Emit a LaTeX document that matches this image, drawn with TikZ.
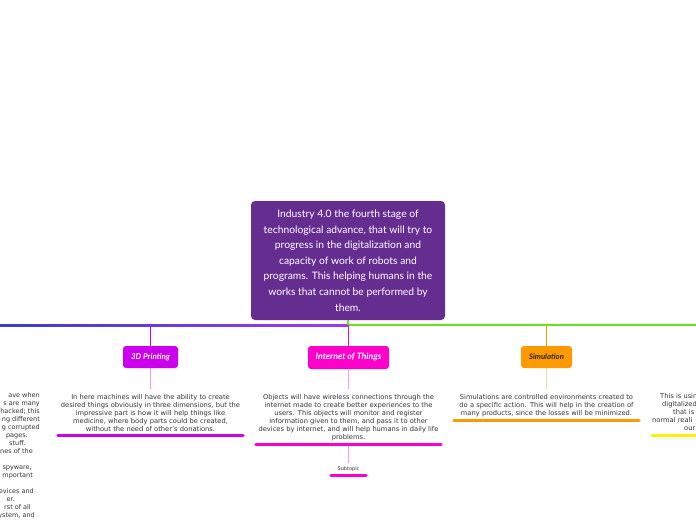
\documentclass[tikz,border=0pt]{standalone}
\usepackage{fontspec}
\setmainfont{DejaVu Sans}
\newfontfamily\handfont{Lato}
\usetikzlibrary{positioning}

\definecolor{centralpurple}{HTML}{662D91}
\definecolor{busblue}{HTML}{3F3AD2}
\definecolor{busviolet}{HTML}{9B3CF6}
\definecolor{busgreen}{HTML}{66E21E}
\definecolor{printcol}{HTML}{CC00EE}
\definecolor{iotcol}{HTML}{FF00CC}
\definecolor{simcol}{HTML}{FF9900}
\definecolor{yellowcol}{HTML}{F5F500}
\definecolor{bodytext}{HTML}{333333}

\tikzset{
  topicbox/.style={rounded corners=3pt, minimum height=22pt, inner xsep=4pt,
    font=\handfont\itshape\bfseries\fontsize{8}{9}\selectfont, text=white},
  bodytxt/.style={align=center, text width=185pt, inner xsep=0pt, inner ysep=2.5pt,
    font=\fontsize{6.7}{8}\selectfont, text=bodytext},
  underline/.style={line width=3pt, line cap=round},
  stub/.style={line width=1.2pt, rounded corners=2pt},
  softstub/.style={line width=1pt},
}

\begin{document}
\begin{tikzpicture}[x=1pt,y=-1pt]
  \useasboundingbox (0,0) rectangle (696,520);
  \clip (0,0) rectangle (696,520);

  % central topic
  \node[fill=centralpurple, rounded corners=4pt, minimum width=194pt, minimum height=119pt,
    text=white, align=center, font=\handfont\fontsize{10.3}{15.6}\selectfont] (central) at (348,260.5)
    {Industry 4.0 the fourth stage of\\ technological advance, that will try to\\
     progress in the digitalization and\\ capacity of work of robots and\\
     programs. This helping humans in the\\ works that cannot be performed by\\ them.};

  % main bus
  \coordinate (busL) at (0,325);
  \coordinate (busM) at (348,325);
  \coordinate (busR) at (696,325);
  \shade[left color=busblue, right color=busviolet] (0,324) rectangle (348,326);
  \draw[busgreen, line width=2pt] (busM) -- (busR);
  \draw[busgreen, line width=2pt] (central.south) -- (busM);

  % 3D printing
  \node[topicbox, fill=printcol, minimum width=55pt] (print) at (150.5,357) {3D Printing};
  \node[bodytxt, below=24pt of print] (printtxt)
    {In here machines will have the ability to create\\ desired things obviously in three dimensions, but the\\
     impressive part is how it will help things like\\ medicine, where body parts could be created,\\
     without the need of other's donations.};
  \draw[printcol, stub] (print.north |- busL) -- (print.north);
  \draw[printcol!40, softstub] (print.south) -- ([yshift=3pt]printtxt.north);
  \draw[printcol, underline] ([yshift=-0.5pt]printtxt.south west) -- ([yshift=-0.5pt]printtxt.south east);

  % internet of things
  \node[topicbox, fill=iotcol, minimum width=81pt, minimum height=23pt,
    font=\handfont\itshape\bfseries\fontsize{8.8}{10}\selectfont] (iot) at (348.5,357.5) {Internet of Things};
  \node[bodytxt, below=23pt of iot] (iottxt)
    {Objects will have wireless connections through the\\ internet made to create better experiences to the\\
     users. This objects will monitor and register\\ information given to them, and pass it to other\\
     devices by internet, and will help humans in daily life\\ problems.};
  \draw[iotcol, stub] (iot.north |- busL) -- (iot.north);
  \draw[iotcol!40, softstub] (iot.south) -- ([yshift=3pt]iottxt.north);
  \draw[iotcol, underline] ([yshift=-0.5pt]iottxt.south west) -- ([yshift=-0.5pt]iottxt.south east);

  % subtopic
  \node[text width=35pt, align=center, inner xsep=0pt, inner ysep=3pt, text=bodytext,
    font=\fontsize{5}{6}\selectfont] (subtopic) at (348.5,469) {Subtopic};
  \draw[iotcol!40, softstub] ([yshift=-2pt]iottxt.south) -- (subtopic.north);
  \draw[iotcol, underline] ([yshift=-1pt]subtopic.south west) -- ([yshift=-1pt]subtopic.south east);

  % simulation
  \node[topicbox, fill=simcol, minimum width=51pt, text=black!85,
    font=\handfont\itshape\bfseries\fontsize{7.7}{9}\selectfont] (sim) at (546.5,357) {Simulation};
  \node[bodytxt, below=24pt of sim] (simtxt)
    {Simulations are controlled environments created to\\ do a specific action. This will help in the creation of\\
     many products, since the losses will be minimized.};
  \draw[simcol, stub] (sim.north |- busL) -- (sim.north);
  \draw[simcol!40, softstub] (sim.south) -- ([yshift=3pt]simtxt.north);
  \draw[simcol, underline] ([yshift=-0.5pt]simtxt.south west) -- ([yshift=-0.5pt]simtxt.south east);

  % right branch (cut by the page edge)
  \node[anchor=north west, align=left, inner sep=0pt, text=bodytext,
    font=\fontsize{6.7}{8}\selectfont] (righttxt) at (652,393)
    {\hspace*{8pt}This is usin\\ \hspace*{10pt}digitalized\\ \hspace*{21pt}that is so\\
     normal reali\\ \hspace*{32pt}our};
  \coordinate (rightL) at (652,435);
  \coordinate (rightR) at (840,435);
  \draw[yellowcol, underline] (rightL) -- (rightR);

  % left branch (cut by the page edge)
  \node[anchor=north east, align=right, inner sep=0pt, text=bodytext,
    font=\fontsize{6.5}{8}\selectfont] (lefttxt) at (40,392.5)
    {ave when\\ s are many\\ hacked; this\\ ng different\\ g corrupted\\
     pages.\makebox[12pt]{}\\ stuff.\makebox[14pt]{}\\ nes of the\makebox[7pt]{}\\ \mbox{}\\
     spyware,\makebox[8pt]{}\\ mportant\makebox[7pt]{}\\ .\makebox[39pt]{}\\
     evices and\makebox[6pt]{}\\ er.\makebox[25pt]{}\\ rst of all\makebox[9pt]{}\\ ystem, and\makebox[5pt]{}};
\end{tikzpicture}
\end{document}
